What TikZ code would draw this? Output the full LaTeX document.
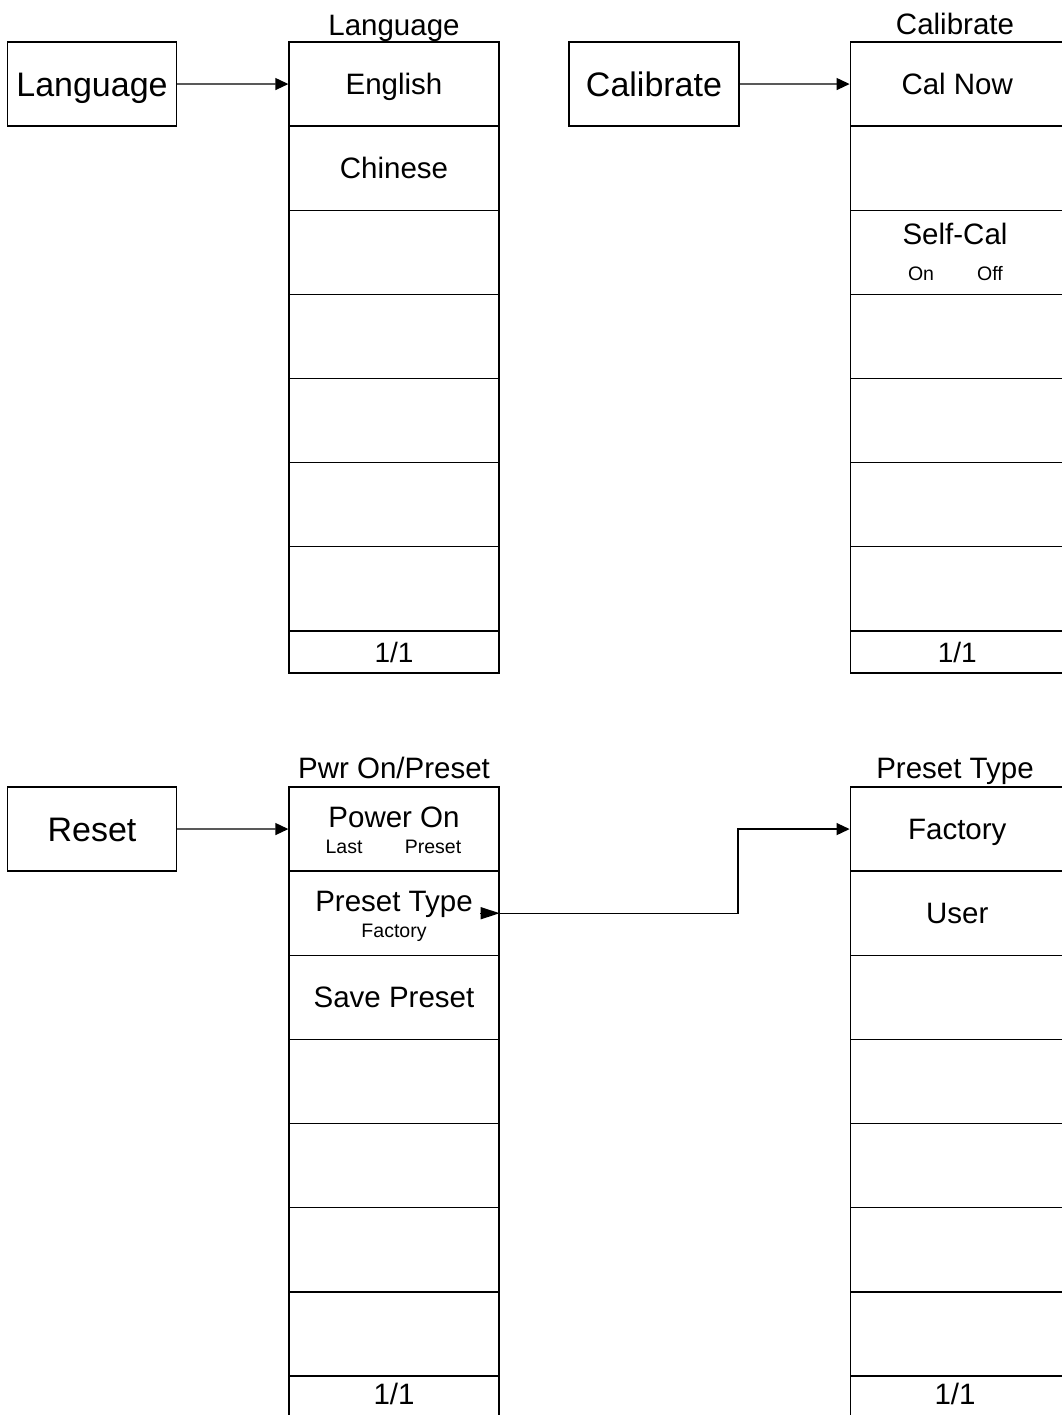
\documentclass[tikz,border=0pt]{standalone}
\usepackage{fontspec}
\setmainfont{Liberation Sans}
\usetikzlibrary{arrows.meta}
\tikzset{
  ln/.style={line width=1.3pt, draw=black},
  btn/.style={ln, minimum width=169pt, minimum height=84pt, inner sep=0pt,
    font=\fontsize{34}{40}\selectfont, text height=24.3pt, text depth=0pt},
  cell/.style={ln, minimum width=210pt, minimum height=84.14pt, inner sep=0pt,
    font=\fontsize{29.5}{35}\selectfont, text height=21.1pt, text depth=0pt},
  cellR/.style={cell, minimum width=214pt},
  foot/.style={cell, minimum height=42.07pt, font=\fontsize{28}{33}\selectfont, text height=20pt},
  footR/.style={foot, minimum width=214pt},
  ttl/.style={inner sep=0pt, font=\fontsize{29.5}{35}\selectfont, text height=21.1pt, text depth=0pt},
  big/.style={ttl},
  small/.style={inner sep=0pt, font=\fontsize{19.5}{23}\selectfont, text height=14pt, text depth=0pt},
  arr/.style={ln, -{Triangle[length=13pt,width=12pt]}},
  marktip/.style={ln, -{Triangle[length=19pt,width=12pt]}},
}
\begin{document}
\begin{tikzpicture}[x=1pt,y=-1pt]
\useasboundingbox (0,0) rectangle (1061,1415);

% ---------- Language ----------
\node[btn] (bLang) at (92,84) {Language};
\node[ttl] (tLang) at (394,24.5) {Language};
\foreach \i/\t in {1/English,2/Chinese,3/,4/,5/,6/,7/}
  \node[cell] (L\i) at (394,{42+84.14*(\i-0.5)}) {\t};
\node[foot] (L8) at (394,{42+84.14*7+21.03}) {1/1};
\draw[arr] (bLang) -- (L1);

% ---------- Calibrate ----------
\node[btn, minimum width=170pt] (bCal) at (654,84) {Calibrate};
\node[ttl] (tCal) at (955,24) {Calibrate};
\foreach \i/\t in {1/Cal Now,2/,3/,4/,5/,6/,7/}
  \node[cellR] (C\i) at (957.25,{42+84.14*(\i-0.5)}) {\t};
\node[footR] (C8) at (957.25,{42+84.14*7+21.03}) {1/1};
\node[big] (sc) at (955,234) {Self-Cal};
\node[small] (scOn) at (921,273) {On};
\node[small] (scOff) at (990,273) {Off};
\draw[arr] (bCal) -- (C1);

% ---------- Reset / Pwr On/Preset ----------
\node[btn] (bRes) at (92,829) {Reset};
\node[ttl] (tPwr) at (394,767.5) {Pwr On/Preset};
\foreach \i/\t in {1/,2/,3/Save Preset,4/,5/,6/,7/}
  \node[cell] (P\i) at (394,{787+84.14*(\i-0.5)}) {\t};
\node[foot] (P8) at (394,{787+84.14*7+21.03}) {};
\node[ttl] (P8t) at (394,1394) {1/1};
\node[big] (pon) at (394,816.5) {Power On};
\node[small] (pLast) at (344,846) {Last};
\node[small] (pPre) at (433,846) {Preset};
\node[big] (ptype) at (394,901) {Preset Type};
\node[small] (pFac) at (394,930) {Factory};
\draw[arr] (bRes) -- (P1);

% ---------- Preset Type ----------
\node[ttl] (tPT) at (955,767.5) {Preset Type};
\foreach \i/\t in {1/Factory,2/User,3/,4/,5/,6/,7/}
  \node[cellR] (R\i) at (957.25,{787+84.14*(\i-0.5)}) {\t};
\node[footR] (R8) at (957.25,{787+84.14*7+21.03}) {};
\node[ttl] (R8t) at (955,1394) {1/1};

\coordinate (mk) at (480,{787+84.14*1.5});
\coordinate (elb) at (738,0);
\draw[marktip] (mk) -- (P2.east);
\draw[arr] (P2.east) -- (P2.east -| elb) |- (R1.west);
\end{tikzpicture}
\end{document}
